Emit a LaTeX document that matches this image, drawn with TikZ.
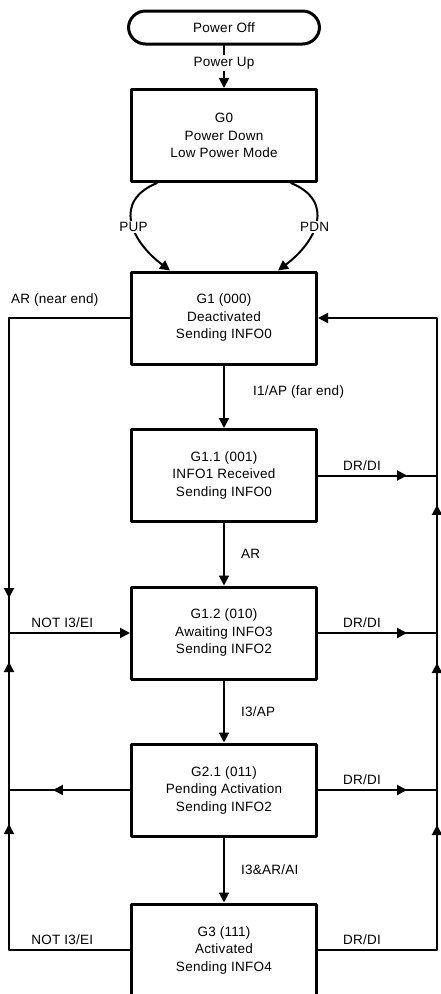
\documentclass[tikz,border=0pt]{standalone}
\usepackage{fontspec}
\setmainfont{Liberation Sans}[LetterSpace=2]
\usepackage{tikz}
\usetikzlibrary{arrows.meta,positioning,calc,decorations.markings}
\definecolor{ink}{HTML}{000000}
\tikzset{
    every picture/.style={line cap=round,line join=round},
    railtip/.tip={Triangle[length=10bp,width=10bp]},
    statebox/.style={draw=ink,line width=3bp,minimum width=185bp,minimum height=92bp,
      inner sep=2pt,align=center},
    endbox/.style={draw=ink,line width=3bp,rounded corners=17bp,
      minimum width=191bp,minimum height=33bp,inner sep=2pt},
    flow/.style={-railtip,draw=ink,line width=2bp},
    rail/.style={draw=ink,line width=2bp},
    arrowat/.style={postaction={decorate},
      decoration={markings,mark=at position #1 with {\arrow{railtip}}}},
    edgelabel/.style={inner sep=1bp,text=ink}
}

\begin{document}
\begin{tikzpicture}[x=1bp,y=1bp,font=\fontsize{13.5bp}{17.5bp}\selectfont]
  \useasboundingbox (0,0) rectangle (441,-994);
  \coordinate (lrail) at (9,0);
  \coordinate (rrail) at (437,0);

  \node[endbox] (off) at (224,-27.5) {Power Off};
  \foreach \n/\y/\t in {g0/135.5/{G0\\Power Down\\Low Power Mode},
      g1/318/{G1 (000)\\Deactivated\\Sending INFO0},
      g11/475.5/{G1.1 (001)\\INFO1 Received\\Sending INFO0},
      g12/633/{G1.2 (010)\\Awaiting INFO3\\Sending INFO2},
      g21/790/{G2.1 (011)\\Pending Activation\\Sending INFO2},
      g3/950/{G3 (111)\\Activated\\Sending INFO4}}
    \node[statebox] (\n) at (224,-\y) {\t};

  % main chain
  \draw[flow] (off) -- node[edgelabel,fill=white,inner sep=2bp,pos=0.42]{Power Up} (g0);
  \draw[flow] ([xshift=-67bp]g0.south) .. controls +(-44,-18) and +(-40,30) ..
    ([xshift=-54bp]g1.north) node[edgelabel,fill=white,pos=0.55]{PUP};
  \draw[flow] ([xshift=67bp]g0.south) .. controls +(44,-18) and +(40,30) ..
    ([xshift=54bp]g1.north) node[edgelabel,fill=white,pos=0.55]{PDN};
  \draw[flow] (g1) -- node[edgelabel,right=27bp,pos=0.42]{I1/AP (far end)} (g11);
  \draw[flow] (g11) -- node[edgelabel,right=15bp]{AR} (g12);
  \draw[flow] (g12) -- node[edgelabel,right=15bp]{I3/AP} (g21);
  \draw[flow] (g21) -- node[edgelabel,right=15bp]{I3\&AR/AI} (g3);

  % left rail
  \draw[flow,arrowat=401bp] (g1.west) -- (g1.west -| lrail)
    node[edgelabel,anchor=south west,yshift=10bp]{AR (near end)}
    -- (g12.west -| lrail) -- node[edgelabel,above=3bp,pos=0.44]{NOT I3/EI} (g12.west);
  \draw[rail,arrowat=77bp] (g21.west) -- (g21.west -| lrail);
  \draw[rail,postaction={decorate},decoration={markings,
      mark=at position 247bp with {\arrow{railtip}},
      mark=at position 409bp with {\arrow{railtip}}}]
    (g3.west) -- node[edgelabel,above=3bp,pos=0.56]{NOT I3/EI} (g3.west -| lrail)
    -- (g21.west -| lrail) -- (g12.west -| lrail);

  % right rail
  \foreach \n in {g11,g12,g21}
    \draw[rail,arrowat=89bp] (\n.east) --
      node[edgelabel,above=3bp,pos=0.37]{DR/DI} (\n.east -| rrail);
  \draw[flow,postaction={decorate},decoration={markings,
      mark=at position 244bp with {\arrow{railtip}},
      mark=at position 406bp with {\arrow{railtip}},
      mark=at position 564bp with {\arrow{railtip}}}]
    (g3.east) -- node[edgelabel,above=3bp,pos=0.37]{DR/DI} (g3.east -| rrail)
    -- (g1.east -| rrail) -- (g1.east);
\end{tikzpicture}
\end{document}
